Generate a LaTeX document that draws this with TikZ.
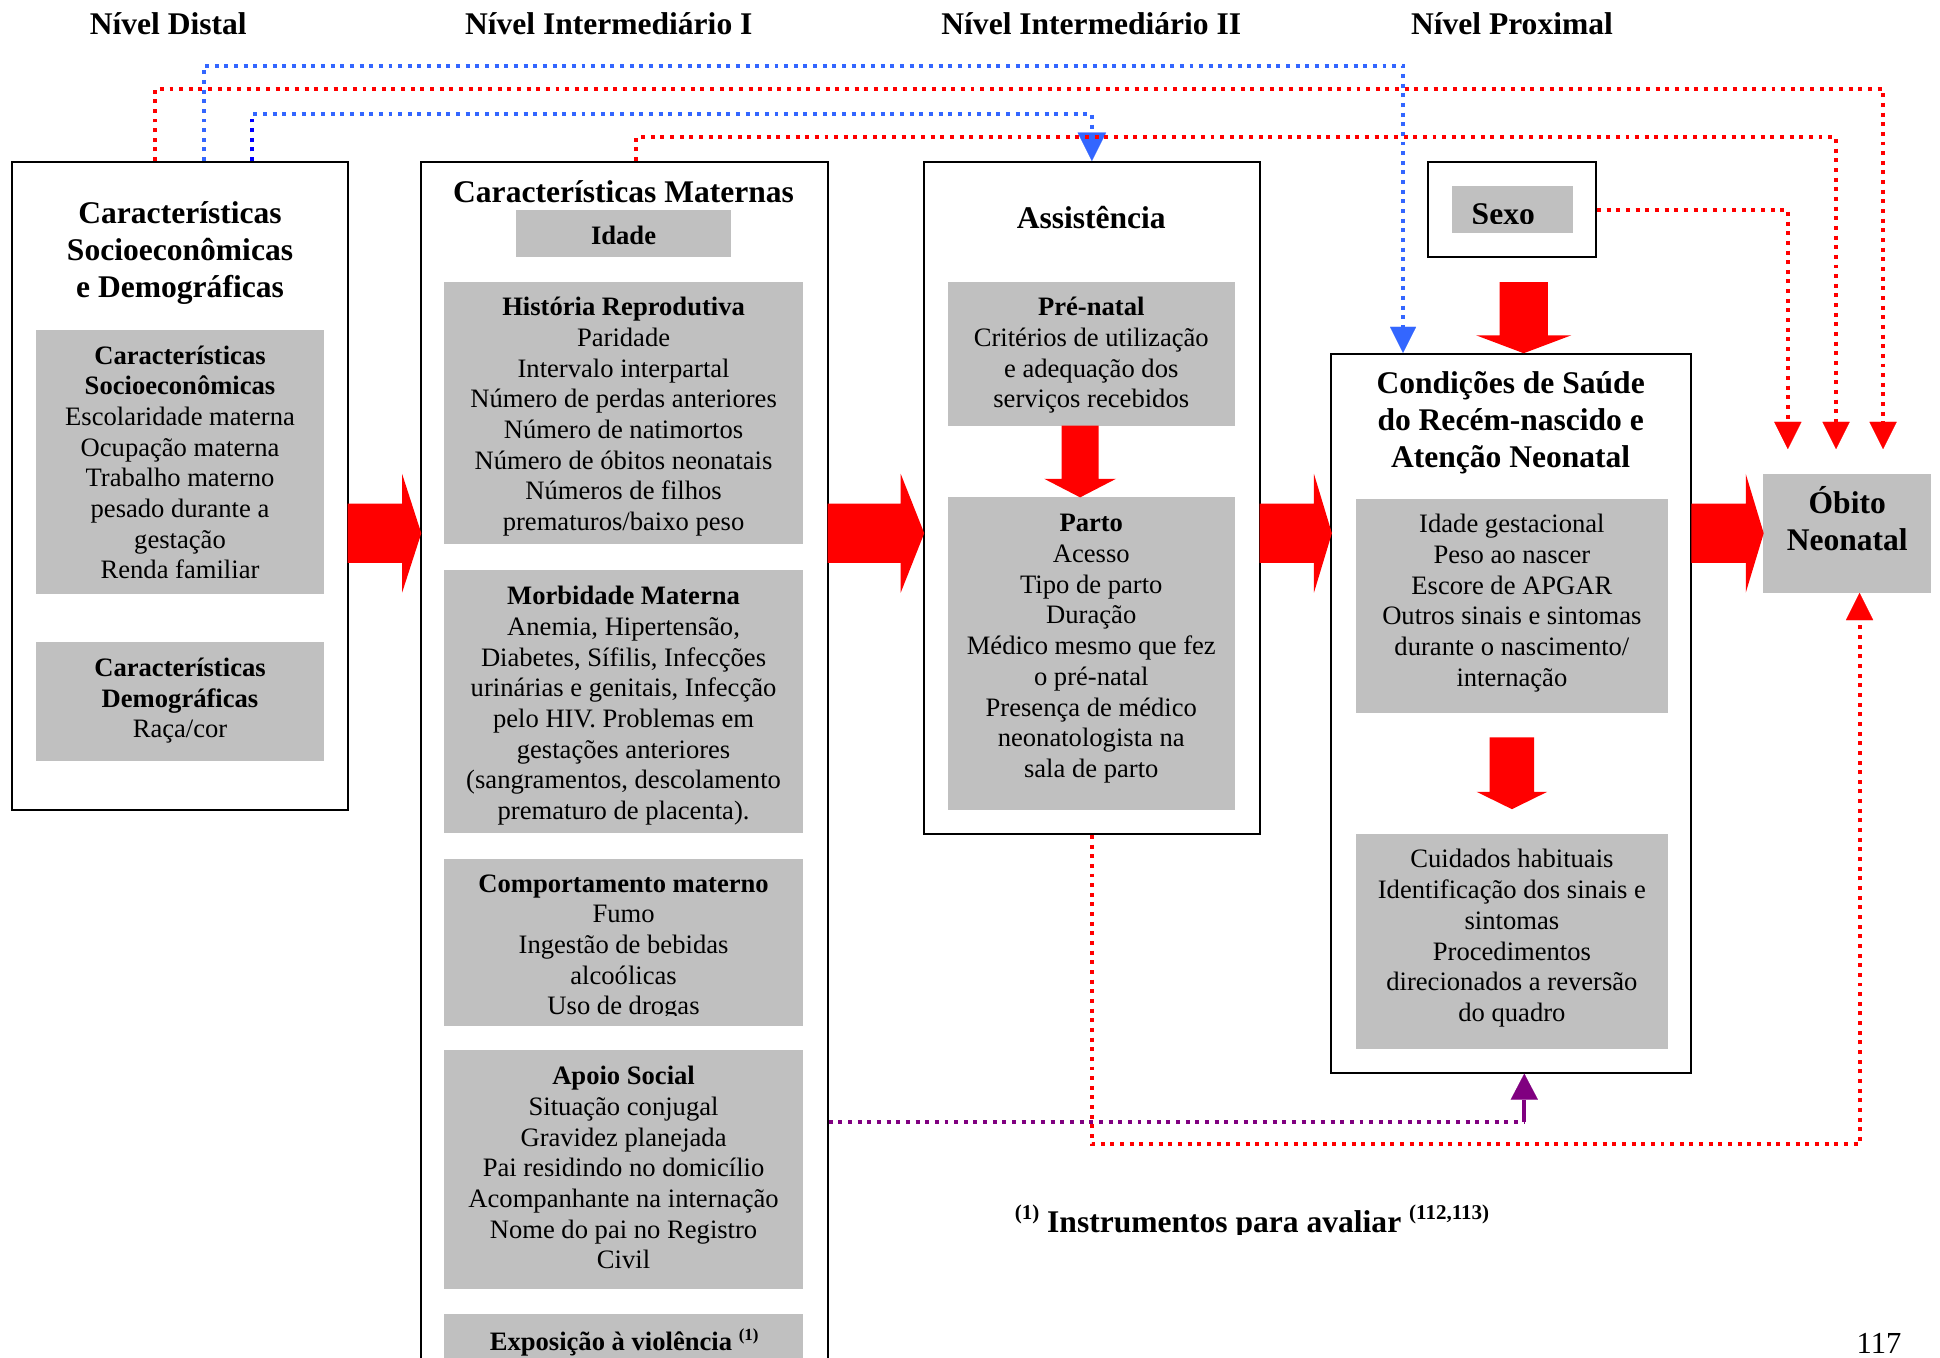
\documentclass[tikz,border=0pt]{standalone}
\usepackage{fontspec}
\setmainfont{Liberation Serif}
\usetikzlibrary{arrows.meta,calc}
\newcommand\bodyf{\fontsize{21.5}{24.8}\selectfont}
\newcommand\titlef{\fontsize{25.5}{30}\selectfont}
\definecolor{grayfill}{HTML}{C0C0C0}
\definecolor{dotblue}{HTML}{3366FF}
\definecolor{dotpurple}{HTML}{800080}
\newcommand\hfat[4]{\fill[red] (#1,407) -- (#2,407) -- (#2,383) -- (#3,#4) -- (#2,479) -- (#2,455) -- (#1,455) -- cycle;}
\newcommand\vfat[6]{\fill[red] (#1-#5,#2) -- (#1+#5,#2) -- (#1+#5,#3) -- (#1+#6,#3) -- (#1,#4) -- (#1-#6,#3) -- (#1-#5,#3) -- cycle;}
\begin{document}
\begin{tikzpicture}[x=1pt,y=-1pt,
  outer/.style={draw=black, line width=1.6pt, fill=white, inner sep=0pt},
  gbox/.style={fill=grayfill, draw=none, inner sep=0pt},
  txt/.style={align=center, inner sep=0pt, font=\bodyf, yshift=-3.8pt, execute at begin node=\strut, execute at end node=\strut},
  ttl/.style={align=center, inner sep=0pt, font=\titlef\bfseries, yshift=-3.3pt, execute at begin node=\strut, execute at end node=\strut},
  hdr/.style={inner sep=0pt, font=\titlef\bfseries, anchor=base},
  dotl/.style={line width=3.2pt, dash pattern=on 3.2pt off 4.6pt},
  tipR/.style={-{Triangle[length=22pt,width=22pt,line width=0.1pt]}},
  tipS/.style={-{Triangle[length=21pt,width=21pt,line width=0.1pt]}},
  tipL/.style={-{Triangle[length=23pt,width=23pt,line width=0.1pt]}}]
\clip (0,0) rectangle (1568,1097);
\fill[white] (0,0) rectangle (1568,1097);

% level headers
\node[hdr] (h1) at (136,28) {Nível Distal};
\node[hdr] (h2) at (492,28) {Nível Intermediário I};
\node[hdr] (h3) at (882,28) {Nível Intermediário II};
\node[hdr] (h4) at (1222,28) {Nível Proximal};

% outer boxes
\node[outer, minimum width=271pt, minimum height=524pt] (b1) at (145.5,393) {};
\node[outer, minimum width=329pt, minimum height=989pt] (b2) at (504.5,625.5) {};
\node[outer, minimum width=271pt, minimum height=543pt] (b3) at (882.5,402.5) {};
\node[outer, minimum width=136pt, minimum height=77pt] (sexo) at (1222,169.5) {};
\node[outer, minimum width=291pt, minimum height=581pt] (b4) at (1221.5,576.5) {};

% gray boxes
\node[gbox, minimum width=233pt, minimum height=213pt] (gA) at (145.5,373.5) {};
\node[gbox, minimum width=233pt, minimum height=96pt] (gB) at (145.5,567) {};
\node[gbox, minimum width=174pt, minimum height=38pt] (gIdade) at (504,189) {};
\node[gbox, minimum width=290pt, minimum height=212pt] (gHist) at (504,334) {};
\node[gbox, minimum width=290pt, minimum height=212pt] (gMorb) at (504,567) {};
\node[gbox, minimum width=290pt, minimum height=135pt] (gComp) at (504,761.5) {};
\node[gbox, minimum width=290pt, minimum height=193pt] (gApoio) at (504,945.5) {};
\node[gbox, minimum width=290pt, minimum height=60pt] (gExpo) at (504,1092) {};
\node[gbox, minimum width=232pt, minimum height=116pt] (gPre) at (882,286) {};
\node[gbox, minimum width=232pt, minimum height=253pt] (gParto) at (882,528.5) {};
\node[gbox, minimum width=97.5pt, minimum height=38.5pt] (gSexo) at (1222.25,169.25) {};
\node[gbox, minimum width=252pt, minimum height=173pt] (gC1) at (1222,489.5) {};
\node[gbox, minimum width=252pt, minimum height=174pt] (gC2) at (1222,761) {};
\node[gbox, minimum width=136pt, minimum height=96pt] (obito) at (1493,431) {};

% titles
\node[ttl] (t1) at (145.5,203) {Características\\Socioeconômicas\\e Demográficas};
\node[ttl] (t2) at (504,154) {Características Maternas};
\node[ttl] (t3) at (882,175) {Assistência};
\node[ttl] (t4) at (1221,340) {Condições de Saúde\\do Recém-nascido e\\Atenção Neonatal};
\node[ttl] (tOb) at (1493,420.5) {Óbito\\Neonatal};
\begin{scope}
\clip (1173,150) rectangle (1271,180.5);
\node[hdr] (tSexo) at (1215,181.5) {Sexo};
\end{scope}

% texts
\node[txt] (tA) at (145.5,373.5) {\textbf{Características}\\\textbf{Socioeconômicas}\\Escolaridade materna\\Ocupação materna\\Trabalho materno\\pesado durante a\\gestação\\Renda familiar};
\node[txt] (tB) at (145.5,564) {\textbf{Características}\\\textbf{Demográficas}\\Raça/cor};
\node[txt] (tIdade) at (504,188.5) {\textbf{Idade}};
\node[txt] (tHist) at (504,334.5) {\textbf{História Reprodutiva}\\Paridade\\Intervalo interpartal\\Número de perdas anteriores\\Número de natimortos\\Número de óbitos neonatais\\Números de filhos\\prematuros/baixo peso};
\node[txt] (tMorb) at (504,568) {\textbf{Morbidade Materna}\\Anemia, Hipertensão,\\Diabetes, Sífilis, Infecções\\urinárias e genitais, Infecção\\pelo HIV. Problemas em\\gestações anteriores\\(sangramentos, descolamento\\prematuro de placenta).};
\begin{scope}
\clip (359,694) rectangle (649,821);
\node[txt] (tComp) at (504,763.5) {\textbf{Comportamento materno}\\Fumo\\Ingestão de bebidas\\alcoólicas\\Uso de drogas};
\end{scope}
\node[txt] (tApoio) at (504,943.5) {\textbf{Apoio Social}\\Situação conjugal\\Gravidez planejada\\Pai residindo no domicílio\\Acompanhante na internação\\Nome do pai no Registro\\Civil};
\node[txt] (tExpo) at (504.5,1083) {\textbf{Exposição à violência \raisebox{8pt}{\fontsize{13.7}{16}\selectfont(1)}}};
\node[txt] (tPre) at (882,285) {\textbf{Pré-natal}\\Critérios de utilização\\e adequação dos\\serviços recebidos};
\node[txt] (tParto) at (882,522) {\textbf{Parto}\\Acesso\\Tipo de parto\\Duração\\Médico mesmo que fez\\o pré-natal\\Presença de médico\\neonatologista na\\sala de parto};
\node[txt] (tC1) at (1222,485) {Idade gestacional\\Peso ao nascer\\Escore de APGAR\\Outros sinais e sintomas\\durante o nascimento/\\internação};
\node[txt] (tC2) at (1222,756) {Cuidados habituais\\Identificação dos sinais e\\sintomas\\Procedimentos\\direcionados a reversão\\do quadro};

% footnote and page number
\begin{scope}
\clip (800,955) rectangle (1250,997.5);
\node[hdr, anchor=base west] (foot) at (820,996) {\raisebox{10pt}{\fontsize{17}{20}\selectfont(1)} Instrumentos para avaliar \raisebox{10pt}{\fontsize{17}{20}\selectfont(112,113)}};
\end{scope}
\node[inner sep=0pt, anchor=base east, font=\fontsize{24.7}{28}\selectfont] (pg) at (1537,1094) {117};

% big red arrows
\hfat{281}{325}{340.5}{431}
\hfat{669}{728}{747}{431}
\hfat{1018}{1062}{1076.5}{431}
\hfat{1367}{1411}{1425.5}{431}
\vfat{873}{344}{387}{402}{15}{29}
\vfat{1231.5}{228}{271}{285.5}{19.5}{38.5}
\vfat{1222}{596}{640}{654}{18}{28.5}

% dotted connectors
\coordinate (r1c) at (1522,72);
\coordinate (ob1) at (1522,363);
\draw[dotl, red, tipR] ([xshift=-20.5pt]b1.north) |- (r1c) -- (ob1);
\coordinate (bl1c) at (1134,53);
\draw[dotl, dotblue, tipS] ([xshift=19.5pt]b1.north) |- (bl1c) -- (bl1c |- b4.north);
\coordinate (bl2c) at (882.5,92);
\draw[dotl, dotblue, tipL] ([xshift=58.5pt]b1.north) |- (bl2c) -- (b3.north);
\draw[dotl, blue] ([xshift=58.5pt]b1.north) -- ([xshift=58.5pt,yshift=37pt]b1.north);
\coordinate (r2c) at (1484,111);
\coordinate (ob2) at (1484,363);
\draw[dotl, red, tipR] ([xshift=9.5pt]b2.north) |- (r2c) -- (ob2);
\coordinate (ob3) at (1445,363);
\draw[dotl, red, tipR] (sexo.east) -| (ob3);
\coordinate (r4c) at (1503,925);
\draw[dotl, red, tipR] (b3.south) |- (r4c) -- (r4c |- obito.south);
\coordinate (pc) at (1232,906.5);
\draw[dotl, dotpurple] (b2.east |- pc) -- (pc);
\draw[line width=3.2pt, dotpurple, -{Triangle[length=21pt,width=22pt,line width=0.1pt]}] (pc) -- (pc |- b4.south);
\end{tikzpicture}
\end{document}
